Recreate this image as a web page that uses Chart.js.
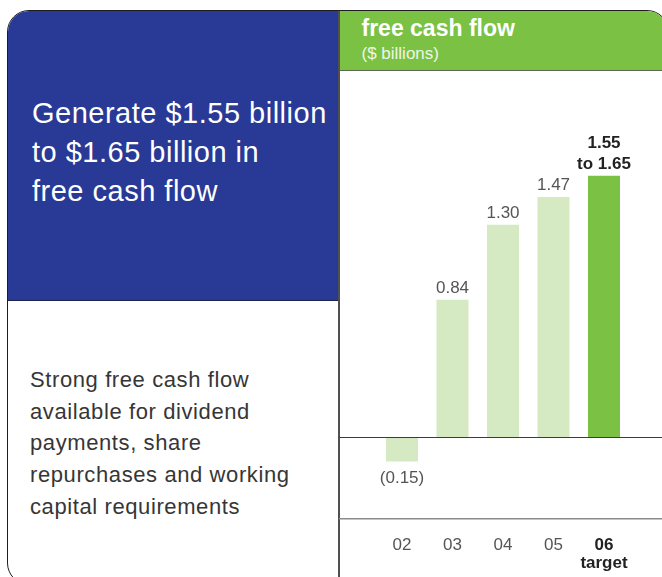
<!DOCTYPE html>
<html>
<head>
<meta charset="utf-8">
<script src="https://cdn.jsdelivr.net/npm/chart.js@4/dist/chart.umd.min.js"></script>
<style>
  html, body { margin: 0; padding: 0; background: #fff; }
  body { width: 662px; height: 577px; position: relative; overflow: hidden; font-family: "Liberation Sans", Arial, sans-serif; }
  .card { position: absolute; left: 7px; top: 10px; width: 662px; height: 575px; border: 1.5px solid #1e1e1e; border-radius: 22px; overflow: hidden; box-sizing: border-box; }
  .blue { position: absolute; left: 0; top: 0; width: 330px; height: 290px; background: #283a96; border-bottom: 1px solid #1c2450; box-sizing: border-box; }
  .blue p { position: absolute; left: 24px; top: 83px; margin: 0; color: #fff; font-size: 29px; line-height: 39px; letter-spacing: 0.5px; }
  .divider { position: absolute; left: 329.5px; top: 0; width: 2px; height: 100%; background: #505050; }
  .green { position: absolute; left: 331.5px; top: 0; right: 0; height: 60px; background: #7bc143; border-bottom: 1px solid #5a6a50; box-sizing: border-box; }
  .green .t { position: absolute; left: 22px; top: 4px; color: #fff; font-size: 23px; font-weight: bold; }
  .green .s { position: absolute; left: 22px; top: 33px; color: #eef7e6; font-size: 17px; }
  .body-text { position: absolute; left: 22px; top: 353px; margin: 0; color: #363636; font-size: 22px; line-height: 31.7px; letter-spacing: 0.6px; }
  #chart { position: absolute; left: 339px; top: 71px; }
</style>
</head>
<body>
<div class="card">
  <div class="blue"><p>Generate $1.55 billion<br>to $1.65 billion in<br>free cash flow</p></div>
  <div class="divider"></div>
  <div class="green"><div class="t">free cash flow</div><div class="s">($ billions)</div></div>
  <p class="body-text">Strong free cash flow<br>available for dividend<br>payments, share<br>repurchases and working<br>capital requirements</p>
</div>
<canvas id="chart" width="323" height="506"></canvas>
<script>
const years = ['02', '03', '04', '05', '06'];
const yearNotes = ['', '', '', '', 'target'];
const freeCashFlow = [-0.15, 0.84, 1.30, 1.47, 1.60];
const valueLabels = [['(0.15)'], ['0.84'], ['1.30'], ['1.47'], ['1.55', 'to 1.65']];
const isTarget = [false, false, false, false, true];

const lightGreen = '#d5e9c3';
const darkGreen = '#7bc143';

const decor = {
    id: 'decor',
    afterDatasetsDraw(chart) {
        const ctx = chart.ctx;
        const yScale = chart.scales.y;
        const xScale = chart.scales.x;
        const zeroY = Math.round(yScale.getPixelForValue(0)) + 0.5;

        ctx.save();
        ctx.strokeStyle = '#3c3c3c';
        ctx.lineWidth = 1;
        ctx.beginPath();
        ctx.moveTo(0, zeroY);
        ctx.lineTo(chart.width, zeroY);
        ctx.stroke();

        ctx.strokeStyle = '#8a8a8a';
        ctx.lineWidth = 1.5;
        ctx.beginPath();
        ctx.moveTo(0, chart.chartArea.bottom);
        ctx.lineTo(chart.width, chart.chartArea.bottom);
        ctx.stroke();

        const bars = chart.getDatasetMeta(0).data;
        ctx.textAlign = 'center';
        bars.forEach((bar, i) => {
            const lines = valueLabels[i];
            ctx.font = (isTarget[i] ? 'bold ' : '') + '17px "Liberation Sans", Arial, sans-serif';
            ctx.fillStyle = isTarget[i] ? '#222' : '#555';
            if (freeCashFlow[i] < 0) {
                ctx.textBaseline = 'middle';
                ctx.fillText(lines[0], bar.x, bar.y + 17);
            } else {
                ctx.textBaseline = 'alphabetic';
                for (let k = lines.length - 1; k >= 0; k--) {
                    const off = (lines.length - 1 - k) * 21;
                    ctx.fillText(lines[k], bar.x, bar.y - 7 - off);
                }
            }

            const cx = xScale.getPixelForValue(i);
            ctx.textBaseline = 'middle';
            ctx.fillText(years[i], cx, chart.chartArea.bottom + 27);
            if (yearNotes[i]) {
                ctx.fillText(yearNotes[i], cx, chart.chartArea.bottom + 45);
            }
        });
        ctx.restore();
    }
};

new Chart(document.getElementById('chart').getContext('2d'), {
    type: 'bar',
    data: {
        labels: years,
        datasets: [{
            data: freeCashFlow,
            backgroundColor: isTarget.map(t => t ? darkGreen : lightGreen),
            borderWidth: 0,
            barPercentage: 0.634,
            categoryPercentage: 1
        }]
    },
    options: {
        responsive: false,
        animation: false,
        devicePixelRatio: 1,
        layout: {
            padding: { left: 37.75, right: 32.75, top: 39.4, bottom: 58.35 }
        },
        plugins: {
            legend: { display: false },
            tooltip: { enabled: false }
        },
        scales: {
            x: { display: false },
            y: { display: false, min: -0.5, max: 2.0 }
        }
    },
    plugins: [decor]
});
</script>
</body>
</html>
